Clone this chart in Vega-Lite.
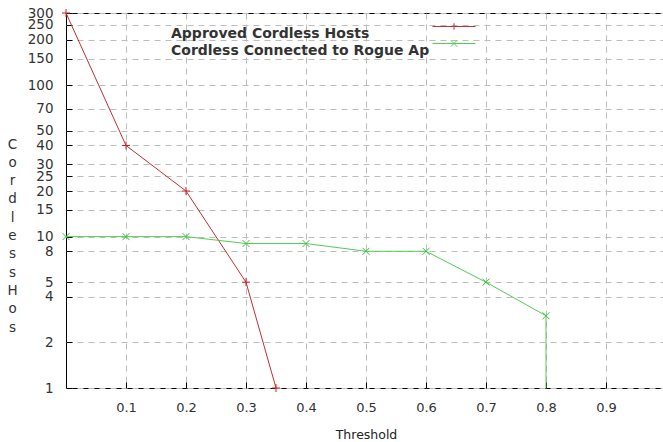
{
  "$schema": "https://vega.github.io/schema/vega-lite/v6.json",
  "width": 600,
  "height": 375,
  "autosize": {"type": "none"},
  "padding": {"left": 66, "top": 13, "right": 0, "bottom": 54},
  "background": "white",
  "config": {
    "view": {"stroke": "black", "strokeWidth": 1},
    "font": "DejaVu Sans"
  },
  "data": {
    "values": [
      {"series": "Approved Cordless Hosts", "x": 0, "y": 300},
      {"series": "Approved Cordless Hosts", "x": 0.1, "y": 40},
      {"series": "Approved Cordless Hosts", "x": 0.2, "y": 20},
      {"series": "Approved Cordless Hosts", "x": 0.3, "y": 5},
      {"series": "Approved Cordless Hosts", "x": 0.35, "y": 1},
      {"series": "Cordless Connected to Rogue Ap", "x": 0, "y": 10},
      {"series": "Cordless Connected to Rogue Ap", "x": 0.1, "y": 10},
      {"series": "Cordless Connected to Rogue Ap", "x": 0.2, "y": 10},
      {"series": "Cordless Connected to Rogue Ap", "x": 0.3, "y": 9},
      {"series": "Cordless Connected to Rogue Ap", "x": 0.4, "y": 9},
      {"series": "Cordless Connected to Rogue Ap", "x": 0.5, "y": 8},
      {"series": "Cordless Connected to Rogue Ap", "x": 0.6, "y": 8},
      {"series": "Cordless Connected to Rogue Ap", "x": 0.7, "y": 5},
      {"series": "Cordless Connected to Rogue Ap", "x": 0.8, "y": 3},
      {"series": "Cordless Connected to Rogue Ap", "x": 0.8, "y": 1}
    ]
  },
  "layer": [
    {
      "transform": [{"filter": "datum.series === 'Approved Cordless Hosts'"}],
      "mark": {"type": "line", "strokeWidth": 1},
      "encoding": {
        "x": {
          "field": "x", "type": "quantitative",
          "scale": {"domain": [0, 1], "nice": false, "zero": false},
          "axis": {
            "values": [0.1, 0.2, 0.3, 0.4, 0.5, 0.6, 0.7, 0.8, 0.9],
            "format": ".1f",
            "domain": false,
            "grid": true, "gridDash": [6, 5], "gridColor": "#bdbdbd", "gridWidth": 1,
            "ticks": true, "tickSize": -6, "tickColor": "black",
            "labelFontSize": 13, "labelColor": "#333", "labelPadding": 19,
            "labelFlush": false, "labelOverlap": false,
            "title": "Threshold", "titleFontSize": 12.5, "titleFontWeight": "normal",
            "titleColor": "#222", "titlePadding": 14
          }
        },
        "y": {
          "field": "y", "type": "quantitative",
          "scale": {"type": "log", "domain": [1, 300], "nice": false},
          "axis": {
            "values": [1, 2, 4, 5, 8, 10, 15, 20, 25, 30, 40, 50, 70, 100, 150, 200, 250, 300],
            "format": "d",
            "domain": false,
            "grid": true, "gridDash": [6, 5], "gridColor": "#bdbdbd", "gridWidth": 1,
            "ticks": true, "tickSize": -6, "tickColor": "black",
            "labelFontSize": 13.5, "labelColor": "#333", "labelPadding": 19,
            "labelFlush": false, "labelOverlap": false,
            "title": ["C", "o", "r", "d", "l", "e", "s", "s", "\u00a0", "H", "o", "s"],
            "titleAngle": 0, "titleX": -54, "titleY": 124,
            "titleAlign": "center", "titleBaseline": "top",
            "titleFontSize": 13.5, "titleFontWeight": "normal", "titleColor": "#333",
            "titleLineHeight": 18.3
          }
        },
        "color": {
          "field": "series", "type": "nominal",
          "scale": {"range": ["#c03030"]},
          "legend": {
            "orient": "none", "legendX": 366, "legendY": -8.5,
            "title": null, "padding": 0,
            "symbolType": "M-1,0H1M0,-0.15V0.15",
            "symbolSize": 1849, "symbolStrokeWidth": 1, "symbolFillColor": "transparent",
            "labelOffset": -305, "labelAlign": "left", "labelBaseline": "top",
            "labelFont": "DejaVu Sans", "labelFontWeight": "bold", "labelFontSize": 14,
            "labelColor": "#333", "labelLimit": 400
          }
        }
      }
    },
    {
      "transform": [{"filter": "datum.series === 'Approved Cordless Hosts'"}],
      "mark": {"type": "point", "shape": "M-1,0H1M0,-1V1", "size": 64, "filled": false, "stroke": "#d02020", "strokeWidth": 1, "opacity": 1},
      "encoding": {
        "x": {"field": "x", "type": "quantitative"},
        "y": {"field": "y", "type": "quantitative"}
      }
    },
    {
      "transform": [{"filter": "datum.series === 'Cordless Connected to Rogue Ap'"}],
      "mark": {"type": "line", "strokeWidth": 1},
      "encoding": {
        "x": {"field": "x", "type": "quantitative"},
        "y": {"field": "y", "type": "quantitative"},
        "color": {
          "field": "series", "type": "nominal",
          "scale": {"range": ["#55cc55"]},
          "legend": {
            "orient": "none", "legendX": 366, "legendY": 8.5,
            "title": null, "padding": 0,
            "symbolType": "M-1,0H1M-0.15,-0.15L0.15,0.15M-0.15,0.15L0.15,-0.15",
            "symbolSize": 1849, "symbolStrokeWidth": 1, "symbolFillColor": "transparent",
            "labelOffset": -305, "labelAlign": "left", "labelBaseline": "top",
            "labelFont": "DejaVu Sans", "labelFontWeight": "bold", "labelFontSize": 14,
            "labelColor": "#333", "labelLimit": 400
          }
        }
      }
    },
    {
      "transform": [
        {"filter": "datum.series === 'Cordless Connected to Rogue Ap'"},
        {"filter": "datum.y > 1"}
      ],
      "mark": {"type": "point", "shape": "M-1,-1L1,1M-1,1L1,-1", "size": 49, "filled": false, "stroke": "#3cc03c", "strokeWidth": 1, "opacity": 1},
      "encoding": {
        "x": {"field": "x", "type": "quantitative"},
        "y": {"field": "y", "type": "quantitative"}
      }
    }
  ],
  "resolve": {"scale": {"color": "independent"}}
}
